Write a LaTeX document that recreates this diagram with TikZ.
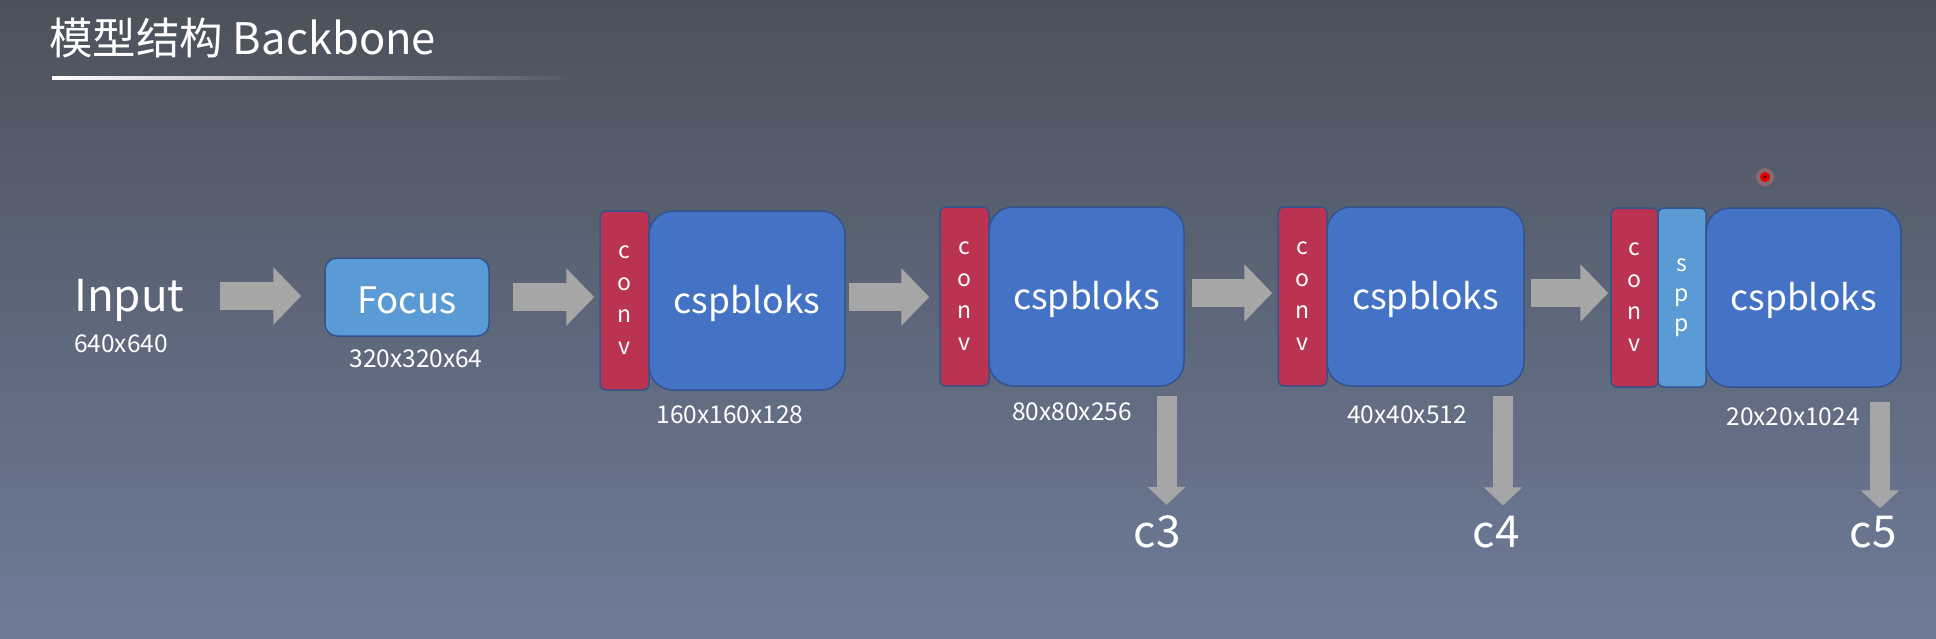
\documentclass[tikz,border=0pt]{standalone}
\usepackage{fontspec}
\setmainfont{Noto Sans CJK SC}
\usetikzlibrary{arrows.meta,calc,fadings}
\definecolor{bgtop}{HTML}{4C525B}
\definecolor{bgmid}{HTML}{636B7E}
\definecolor{bgbot}{HTML}{6F7C99}
\definecolor{convred}{HTML}{BA3452}
\definecolor{lightblue}{HTML}{5B9BD5}
\definecolor{midblue}{HTML}{4472C4}
\definecolor{edgeblue}{HTML}{34538C}
\definecolor{arrowgray}{HTML}{A6A6A6}
\newcommand{\fsz}[1]{\fontsize{#1}{#1}\selectfont}
\tikzset{
  convbox/.style={draw=edgeblue, line width=1.5pt, fill=convred, rounded corners=6pt,
    minimum width=49pt, minimum height=179pt, inner sep=0pt, text=white,
    align=center, font=\fontsize{23}{32}\selectfont},
  sppbox/.style={convbox, fill=lightblue},
  cspbox/.style={draw=edgeblue, line width=1.5pt, fill=midblue, rounded corners=24pt,
    minimum width=196pt, minimum height=179pt, inner sep=0pt, text=white,
    font=\fsz{35.5}, text height=25pt, text depth=0pt},
  focusbox/.style={draw=edgeblue, line width=1.5pt, fill=lightblue, rounded corners=12pt,
    minimum width=164pt, minimum height=78pt, inner sep=0pt, text=white,
    font=\fsz{36.5}, text height=32pt, text depth=0pt},
  dimtext/.style={text=white, font=\fsz{24.5}, inner sep=0pt, anchor=base},
  outtext/.style={text=white, font=\fsz{44}, inner sep=0pt, anchor=base},
  harrow/.style={draw=arrowgray, line width=28pt, -{Triangle[length=28pt,width=56pt]}},
  varrow/.style={draw=arrowgray, line width=20pt, -{Triangle[length=18pt,width=37pt]}},
}
\begin{document}
\begin{tikzpicture}[x=1pt,y=-1pt]
\useasboundingbox (0,0) rectangle (1936,638);
\shade[top color=bgtop, middle color=bgmid, bottom color=bgbot] (0,0) rectangle (1936,638);
% title
\node[anchor=base west, inner sep=0pt, text=white, font=\fsz{43.5}] (title) at (49,54) {模型结构 Backbone};
\fill[white, path fading=east] (52,76) rectangle (575,80);
% input
\node[anchor=base west, inner sep=0pt, text=white, font=\fsz{44}] (input) at (74,311) {Input};
\node[dimtext, anchor=base west] (indim) at (74,352) {640x640};
% focus
\node[focusbox] (focus) at (407,297) {Focus};
\node[dimtext] (focusdim) at (416,367) {320x320x64};
% stage 1
\node[convbox] (conv1) at (624.5,300.5) {c\\o\\n\\v};
\node[cspbox] (csp1) at (747,300.5) {cspbloks};
\node[dimtext] (dim1) at (730,423) {160x160x128};
% stage 2
\node[convbox] (conv2) at (964.5,296.5) {c\\o\\n\\v};
\node[cspbox, minimum width=195pt] (csp2) at (1086.5,296.5) {cspbloks};
\node[dimtext] (dim2) at (1072,420) {80x80x256};
% stage 3
\node[convbox] (conv3) at (1302.5,296.5) {c\\o\\n\\v};
\node[cspbox, minimum width=197pt] (csp3) at (1425.5,296.5) {cspbloks};
\node[dimtext] (dim3) at (1407,423) {40x40x512};
% stage 4
\node[convbox, minimum width=47pt] (conv4) at (1634.5,297.5) {c\\o\\n\\v};
\node[sppbox, minimum width=48pt, font=\fontsize{23}{30}\selectfont] (spp) at (1682,297.5) {s\\p\\p};
\node[cspbox, minimum width=195pt] (csp4) at (1803.5,297.5) {cspbloks};
\node[dimtext] (dim4) at (1793,425) {20x20x1024};
% outputs
\node[outtext] (c3) at (1157,547) {c3};
\node[outtext] (c4) at (1496,547) {c4};
\node[outtext] (c5) at (1873,547) {c5};
% horizontal arrows
\coordinate (y1) at (0,296);
\coordinate (y2) at (0,297);
\coordinate (y3) at (0,293);
\draw[harrow] ($(input.east |- y1)+(35,0)$) -- ($(focus.west |- y1)+(-23,0)$);
\draw[harrow] ($(focus.east |- y2)+(23,0)$) -- ($(conv1.west |- y2)+(-5,0)$);
\draw[harrow] ($(csp1.east |- y2)+(3,0)$) -- ($(conv2.west |- y2)+(-10,0)$);
\draw[harrow] ($(csp2.east |- y3)+(7,0)$) -- ($(conv3.west |- y3)+(-5,0)$);
\draw[harrow] ($(csp3.east |- y3)+(6,0)$) -- ($(conv4.west |- y3)+(-2,0)$);
% vertical arrows
\coordinate (x3) at (1166.5,0);
\coordinate (x4) at (1503,0);
\coordinate (x5) at (1880,0);
\draw[varrow] ($(csp2.south -| x3)+(0,9)$) -- ($(c3.north -| x3)+(0,-10)$);
\draw[varrow] ($(csp3.south -| x4)+(0,9)$) -- ($(c4.north -| x4)+(0,-10)$);
\draw[varrow] ($(csp4.south -| x5)+(0,14)$) -- ($(c5.north -| x5)+(0,-7)$);
% pointer dot
\fill[red!50!white, opacity=0.3] (1765,177) circle (9);
\fill[red!90!black] (1765,177) circle (5);
\fill[red!40!black] (1765,177) circle (1.8);
\end{tikzpicture}
\end{document}
